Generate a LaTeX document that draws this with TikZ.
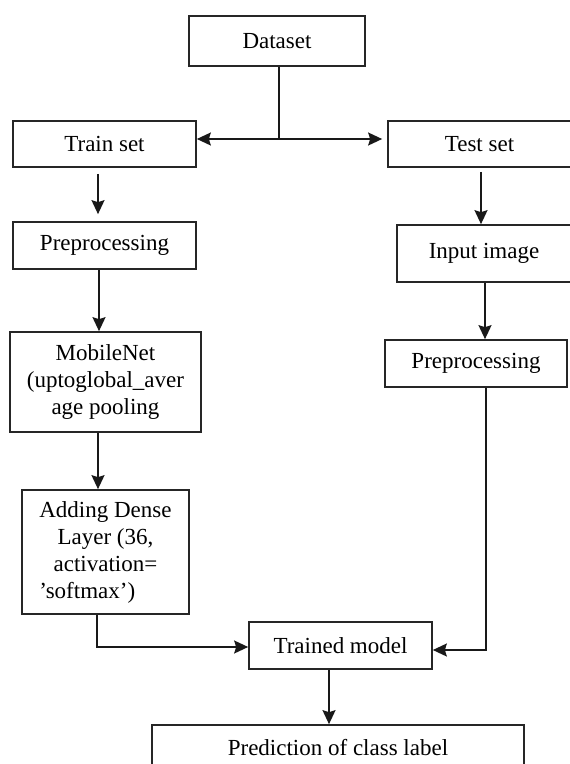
\documentclass[tikz,border=0pt]{standalone}
\usepackage{fontspec}
\usepackage{calc}
\setmainfont{Liberation Serif}
\usetikzlibrary{arrows.meta}
\begin{document}
\begin{tikzpicture}[x=1pt,y=-1pt,
  box/.style={draw=black!85,line width=1.7pt,inner sep=0pt,align=center,
    font=\fontsize{23}{27}\selectfont},
  conn/.style={draw=black!90,line width=1.8pt},
  arr/.style={conn,-{Stealth[length=14pt,width=13pt,inset=2pt]}}]
\useasboundingbox (0,0) rectangle (570,764);
\fill[white] (0,0) rectangle (570,764);
% boxes
\node[box,minimum width=176pt,minimum height=50pt] (ds) at (277,41) {Dataset};
\node[box,minimum width=183pt,minimum height=46pt] (train) at (104.5,144) {Train set};
\node[box,minimum width=183pt,minimum height=46pt] (test) at (479.5,144) {Test set};
\node[box,minimum width=183pt,minimum height=47pt] (pre1) at (104.5,245.5) {Preprocessing};
\node[box,minimum width=174pt,minimum height=57pt] (inp) at (484,253.5) {Input image};
\node[box,minimum width=191pt,minimum height=100pt] (mob) at (105.5,382) {MobileNet\\(uptoglobal\_aver\\age pooling};
\node[box,minimum width=182pt,minimum height=47pt] (pre2) at (476,363.5) {Preprocessing};
\node[box,minimum width=167pt,minimum height=124pt] (dense) at (105.5,552)
  {Adding Dense\\Layer (36,\\activation=\\\makebox[\widthof{Adding Dense}][l]{'softmax')}};
\node[box,minimum width=183pt,minimum height=47pt] (trained) at (340.5,645.5) {Trained model};
\node[box,minimum width=372pt,minimum height=45pt] (pred) at (338,747.5) {Prediction of class label};
% connectors
\coordinate (j) at (279,139);
\draw[conn,line width=2.8pt] (ds.south -| j) -- (j);
\draw[arr] (j) -- (train.east |- j);
\draw[arr,shorten >=5pt] (j) -- (test.west |- j);
\draw[arr,shorten <=6pt,shorten >=7pt] ([xshift=-6.5pt]train.south) -- ([xshift=-6.5pt]pre1.north);
\draw[arr] ([xshift=-5.5pt]pre1.south) -- ([xshift=-6.5pt]mob.north);
\draw[arr] ([xshift=-7.5pt]mob.south) -- ([xshift=-7.5pt]dense.north);
\draw[arr] ([xshift=-8.5pt]dense.south) |- ([yshift=-1.5pt]trained.west);
\draw[arr,shorten <=4pt] ([xshift=1.5pt]test.south) -- ([xshift=-3pt]inp.north);
\draw[arr] ([xshift=1pt]inp.south) -- ([xshift=9pt]pre2.north);
\draw[arr] ([xshift=10pt]pre2.south) |- ([yshift=-4.5pt]trained.east);
\draw[arr] ([xshift=-11.5pt]trained.south) -- ([xshift=-9pt]pred.north);
\end{tikzpicture}
\end{document}
